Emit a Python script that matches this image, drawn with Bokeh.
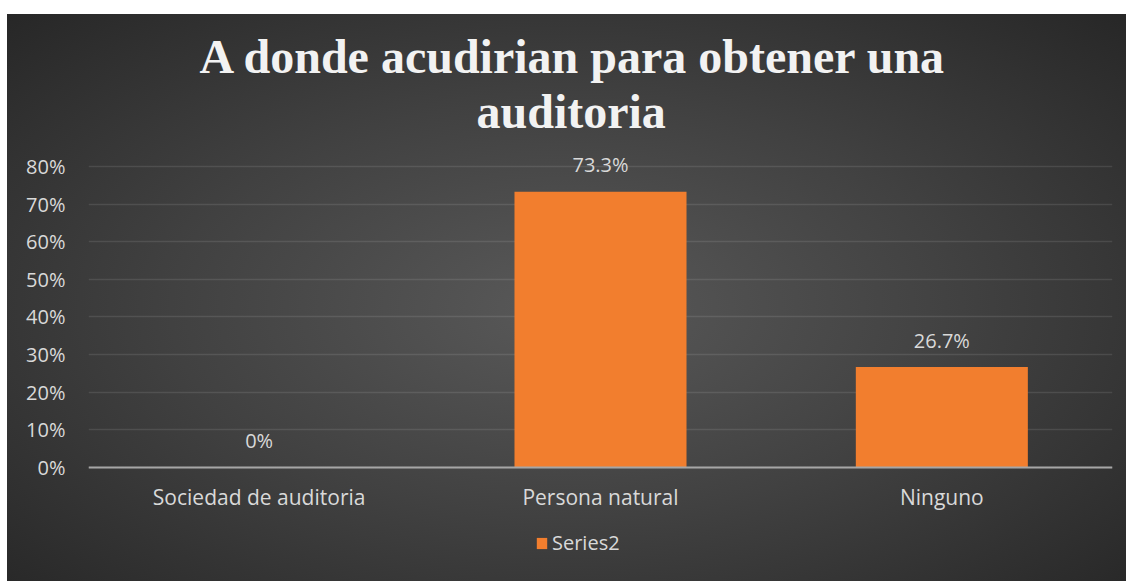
from bokeh.plotting import figure
from bokeh.models import (ColumnDataSource, FactorRange, Range1d, NumeralTickFormatter,
                          FixedTicker, Legend, LegendItem, Title)
from bokeh.core.properties import value
from bokeh.embed import file_html
from bokeh.resources import INLINE

title_line1 = "A donde acudirian para obtener una"
title_line2 = "auditoria"
categories = ["Sociedad de auditoria", "Persona natural", "Ninguno"]
values = [0.0, 0.733, 0.267]
series_name = "Series2"
y_ticks = [0.0, 0.1, 0.2, 0.3, 0.4, 0.5, 0.6, 0.7, 0.8]

labels = [f"{round(v * 100, 1):g}%" for v in values]
source = ColumnDataSource(dict(cat=categories, val=values, label=labels))

FONT = "Open Sans"
TXT = "#d9d9d9"

p = figure(width=1119, height=567, output_backend="svg", toolbar_location=None,
           x_range=FactorRange(factors=categories, range_padding=0),
           y_range=Range1d(-0.303, 0.8425),
           min_border_left=81, min_border_right=14, min_border_top=136,
           min_border_bottom=0)

p.styles = {"background": "radial-gradient(ellipse farthest-corner at 50% 52%, #595959 0%, #414141 50%, #272727 100%)",
            "margin-top": "14px", "margin-left": "7px"}
p.background_fill_color = None
p.border_fill_color = None
p.outline_line_color = None

def style_title(t, offset):
    t.align = "left"
    t.offset = offset
    t.text_font = "Liberation Serif"
    t.text_font_size = "48px"
    t.text_font_style = "bold"
    t.text_color = "#f2f2f2"

# spacer between the title block and the plot frame (nearest the frame)
gap = Title(text="\u00a0", standoff=10, text_font_size="1px")
p.add_layout(gap, "above")

p.title.text = title_line1
style_title(p.title, 111)
p.title.standoff = 0
t2 = Title(text=title_line2)
style_title(t2, 388)
t2.standoff = 0
p.add_layout(t2, "above")

bars = p.vbar(x="cat", top="val", width=0.504, source=source,
              fill_color="#f27e2e", line_color=None)

p.text(x="cat", y="val", text="label", source=source, text_align="center",
       text_baseline="middle", y_offset=-27, text_font=value(FONT),
       text_font_size="20px", text_color=TXT)

p.yaxis.ticker = FixedTicker(ticks=y_ticks)
p.yaxis.formatter = NumeralTickFormatter(format="0%")
p.yaxis.axis_line_color = None
p.yaxis.major_tick_line_color = None
p.yaxis.minor_tick_line_color = None
p.yaxis.major_label_standoff = 17
p.yaxis.major_label_text_font = FONT
p.yaxis.major_label_text_font_size = "20px"
p.yaxis.major_label_text_color = TXT

p.xaxis.fixed_location = 0
p.xaxis.axis_line_color = "#a6a6a6"
p.xaxis.axis_line_width = 2
p.xaxis.major_tick_line_color = None
p.xaxis.minor_tick_line_color = None
p.xaxis.major_label_standoff = 10
p.xaxis.major_label_text_font = FONT
p.xaxis.major_label_text_font_size = "21px"
p.xaxis.major_label_text_color = TXT

p.xgrid.grid_line_color = None
p.ygrid.grid_line_color = "white"
p.ygrid.grid_line_alpha = 0.1
p.ygrid.grid_line_width = 1.5

legend = Legend(items=[LegendItem(label=series_name, renderers=[bars])],
                orientation="horizontal", location=(447, 25),
                background_fill_alpha=0, border_line_color=None,
                label_text_font=FONT, label_text_font_size="20px",
                label_text_color=TXT, glyph_width=13, glyph_height=14,
                label_standoff=4, padding=4, margin=0)
p.add_layout(legend)

open("out.html", "w").write(file_html(p, INLINE))
